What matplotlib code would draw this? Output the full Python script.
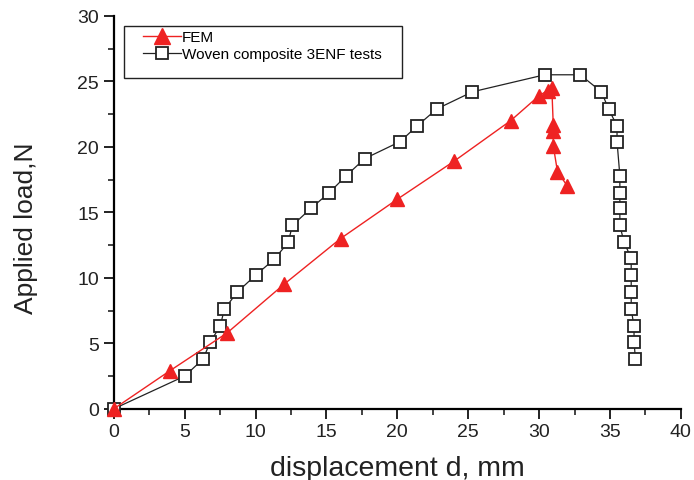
import numpy as np
import matplotlib
matplotlib.use('Agg')
import matplotlib.pyplot as plt
from matplotlib.ticker import MultipleLocator
from matplotlib.patches import Rectangle

plt.rcParams['font.family'] = ['Liberation Sans', 'DejaVu Sans']

# FEM results
fem_d = [0, 3.95, 8.0, 12.0, 16.0, 20.0, 24.0, 28.0, 30.0, 30.6, 30.9, 31.0, 31.0, 31.0, 31.3, 32.0]
fem_p = [0, 2.9, 5.8, 9.5, 13.0, 16.0, 18.9, 22.0, 23.9, 24.3, 24.5, 21.7, 21.2, 20.1, 18.1, 17.0]

# ensayos 3ENF
test_d = [0, 5.0, 6.3, 6.8, 7.5, 7.8, 8.7, 10.0, 11.3, 12.3, 12.6, 13.9, 15.2, 16.4, 17.7,
          20.2, 21.4, 22.8, 25.3, 30.4, 32.9, 34.4, 34.9, 35.5, 35.5, 35.7, 35.7, 35.7,
          35.7, 36.0, 36.5, 36.5, 36.5, 36.5, 36.7, 36.7, 36.8]
test_p = [0, 2.5, 3.8, 5.1, 6.3, 7.6, 8.9, 10.2, 11.4, 12.7, 14.0, 15.3, 16.5, 17.8, 19.1,
          20.4, 21.6, 22.9, 24.2, 25.5, 25.5, 24.2, 22.9, 21.6, 20.4, 17.8, 16.5, 15.3,
          14.0, 12.7, 11.5, 10.2, 8.9, 7.6, 6.3, 5.1, 3.8]

fig = plt.figure(figsize=(6.94, 4.81), dpi=100)
ax = fig.add_axes([0.164, 0.148, 0.817, 0.817])

ax.plot(test_d, test_p, '-', color='#222222', lw=0.9, marker='s', ms=8,
        mfc='white', mec='#222222', mew=1.3, clip_on=False, zorder=3,
        label='Woven composite 3ENF tests')
ax.plot(fem_d, fem_p, '-', color='#ee2222', lw=1.0, marker='^', ms=10,
        mfc='#ee2222', mec='#ee2222', clip_on=False, zorder=4, label='FEM')

ax.set_xlim(0, 40)
ax.set_ylim(0, 30)
ax.xaxis.set_major_locator(MultipleLocator(5))
ax.xaxis.set_minor_locator(MultipleLocator(2.5))
ax.yaxis.set_major_locator(MultipleLocator(5))
ax.yaxis.set_minor_locator(MultipleLocator(2.5))
ax.spines['top'].set_visible(False)
ax.spines['right'].set_visible(False)
ax.spines['left'].set_linewidth(1.6)
ax.spines['bottom'].set_linewidth(1.6)
ax.tick_params(which='major', direction='out', length=7, width=1.4, labelsize=14, colors='#222222')
ax.tick_params(which='minor', direction='out', length=4, width=1.2, colors='#222222')

ax.set_xlabel('displacement d, mm', fontsize=20.5, color='#222222', va='baseline')
ax.xaxis.set_label_coords(0.5, -0.168)
ax.set_ylabel('Applied load,N', fontsize=19, color='#222222')
ax.yaxis.set_label_coords(-0.134, 0.463)

# recuadro de la leyenda
fig.patches.append(Rectangle((124 / 694, 1 - 79 / 481), 278 / 694, 52 / 481,
                             transform=fig.transFigure, fill=True, facecolor='white',
                             edgecolor='#222222', lw=1.0, zorder=5))

h, l = ax.get_legend_handles_labels()
leg = fig.legend(h[::-1], l[::-1], loc='upper left', bbox_to_anchor=(143 / 694, 1 - 31 / 481),
                 fontsize=11, frameon=False, handlelength=2.5, handletextpad=0.05,
                 borderpad=0, labelspacing=0.2, borderaxespad=0, markerscale=1.1)
leg.set_zorder(6)

fig.savefig('out.png', dpi=100)
